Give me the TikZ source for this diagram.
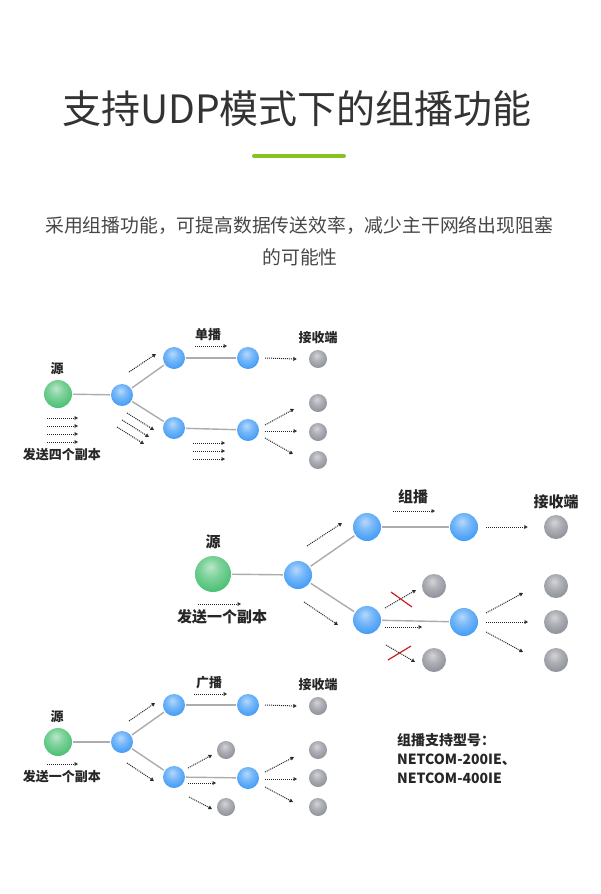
\documentclass[tikz,border=0pt]{standalone}
\usepackage{fontspec}
\setmainfont{Noto Sans CJK SC}
\usetikzlibrary{arrows.meta}
\definecolor{srcgreen}{RGB}{55,185,100}
\definecolor{hopblue}{RGB}{45,145,245}
\definecolor{rcvgray}{RGB}{130,133,142}
\definecolor{barlime}{RGB}{135,195,35}
\definecolor{crossred}{RGB}{200,30,30}
\makeatletter
\pgfdeclareradialshading[tikz@ball]{softball}{\pgfqpoint{-4bp}{10bp}}{%
	color(0bp)=(tikz@ball!35!white); color(14bp)=(tikz@ball!65!white);
	color(34bp)=(tikz@ball!95!white); color(52bp)=(tikz@ball);
	color(62bp)=(tikz@ball!85!black); color(80bp)=(tikz@ball!85!black)}
\makeatother
\begin{document}
\begin{tikzpicture}[x=1pt, y=-1pt, every node/.style={inner sep=0pt},
	src/.style={circle, ball color=srcgreen, shading=softball, minimum size=28pt},
	hop/.style={circle, ball color=hopblue, shading=softball, minimum size=22pt},
	rcv/.style={circle, ball color=rcvgray, shading=softball, minimum size=18pt},
	link/.style={draw=gray!65, line width=1.4pt, shorten <=1pt, shorten >=1pt},
	flow/.style={draw=black!85, densely dotted, line width=1pt, -{Triangle[open, length=3.5pt, width=3.8pt]}},
	cut/.style={draw=crossred, line width=1.2pt},
	lbl/.style={font=\bfseries\fontsize{13}{13}\selectfont, text=black!85},
	biglbl/.style={font=\bfseries\fontsize{15}{15}\selectfont, text=black!85}]
	\fill[white] (0,0) rectangle (600,894);
	\useasboundingbox (0,0) rectangle (600,894);

	% heading
	\node[font=\fontsize{39}{39}\selectfont, text=black!80] (title) at (297,109) {支持UDP模式下的组播功能};
	\coordinate (barL) at (254,156);
	\coordinate (barR) at (344,156);
	\draw[barlime, line width=4pt, line cap=round] (barL) -- (barR);
	\node[font=\fontsize{18.8}{18.8}\selectfont, text=black!72] (intro1) at (299,225) {采用组播功能，可提高数据传送效率，减少主干网络出现阻塞};
	\node[font=\fontsize{18.8}{18.8}\selectfont, text=black!72] (intro2) at (300,257) {的可能性};

	% unicast
	\node[src] (s1) at (58,394) {};
	\node[hop] (h1) at (122,395) {};
	\node[hop] (a1) at (174,358) {};
	\node[hop] (a2) at (248,358) {};
	\node[hop] (b1) at (174,428) {};
	\node[hop] (b2) at (248,430) {};
	\node[rcv] (r1) at (318,359) {};
	\node[rcv] (r2) at (318,403) {};
	\node[rcv] (r3) at (318,432) {};
	\node[rcv] (r4) at (318,460) {};
	\node[lbl] (srcU) at (57,369) {源};
	\node[lbl] (modeU) at (208,335) {单播};
	\node[lbl] (rcvU) at (318,338) {接收端};
	\node[lbl] (copyU) at (62,455) {发送四个副本};
	\draw[link] (s1) -- (h1);
	\draw[link] (h1) -- (a1);
	\draw[link] (h1) -- (b1);
	\draw[link] (a1) -- (a2);
	\draw[link] (b1) -- (b2);
	\draw[flow] ([shift={(-11,24)}]s1.center) -- ++(31,0);
	\draw[flow] ([shift={(-11,32)}]s1.center) -- ++(31,0);
	\draw[flow] ([shift={(-11,40)}]s1.center) -- ++(31,0);
	\draw[flow] ([shift={(-11,48)}]s1.center) -- ++(31,0);
	\draw[flow] ([shift={(7,-23)}]h1.center) -- ++(27,-18);
	\draw[flow] ([shift={(5,18)}]h1.center) -- ++(27,17);
	\draw[flow] ([shift={(0,25)}]h1.center) -- ++(27,17);
	\draw[flow] ([shift={(-5,32)}]h1.center) -- ++(27,17);
	\draw[flow] ([shift={(21,-12)}]a1.center) -- ++(32,0);
	\draw[flow] ([xshift=6pt]a2.east) -- ([xshift=-12pt]r1.west);
	\draw[flow] ([shift={(19,15)}]b1.center) -- ++(32,0);
	\draw[flow] ([shift={(19,23)}]b1.center) -- ++(32,0);
	\draw[flow] ([shift={(19,31)}]b1.center) -- ++(32,0);
	\draw[flow] ([shift={(17,-5)}]b2.center) -- ++(29,-16);
	\draw[flow] ([shift={(17,1)}]b2.center) -- ++(32,0);
	\draw[flow] ([shift={(17,8)}]b2.center) -- ++(28,16);

	% multicast
	\node[src, minimum size=36pt] (s2) at (213,574) {};
	\node[hop, minimum size=28pt] (h2) at (298,575) {};
	\node[hop, minimum size=28pt] (c1) at (367,527) {};
	\node[hop, minimum size=28pt] (c2) at (464,527) {};
	\node[hop, minimum size=28pt] (d1) at (367,620) {};
	\node[hop, minimum size=28pt] (d2) at (464,622) {};
	\node[rcv, minimum size=24pt] (x1) at (434,586) {};
	\node[rcv, minimum size=24pt] (x2) at (434,660) {};
	\node[rcv, minimum size=24pt] (q1) at (556,527) {};
	\node[rcv, minimum size=24pt] (q2) at (556,586) {};
	\node[rcv, minimum size=24pt] (q3) at (556,622) {};
	\node[rcv, minimum size=24pt] (q4) at (556,660) {};
	\node[biglbl] (srcM) at (213,542) {源};
	\node[biglbl] (modeM) at (413,497) {组播};
	\node[biglbl] (rcvM) at (556,502) {接收端};
	\node[biglbl] (copyM) at (222,617) {发送一个副本};
	\draw[link] (s2) -- (h2);
	\draw[link] (h2) -- (c1);
	\draw[link] (h2) -- (d1);
	\draw[link] (c1) -- (c2);
	\draw[link] (d1) -- (d2);
	\draw[flow] ([shift={(-15,30)}]s2.center) -- ++(43,0);
	\draw[flow] ([shift={(9,-29)}]h2.center) -- ++(35,-23);
	\draw[flow] ([shift={(6,27)}]h2.center) -- ++(34,23);
	\draw[flow] ([shift={(26,-16)}]c1.center) -- ++(42,0);
	\draw[flow] ([xshift=8pt]c2.east) -- ([xshift=-16pt]q1.west);
	\draw[flow] ([shift={(18,-12)}]d1.center) -- ++(31,-18);
	\draw[cut] ([shift={(24,-28)}]d1.center) -- ++(21,15);
	\draw[flow] ([shift={(18,7)}]d1.center) -- ++(37,0);
	\draw[flow] ([shift={(19,25)}]d1.center) -- ++(29,17);
	\draw[cut] ([shift={(21,40)}]d1.center) -- ++(23,-14);
	\draw[flow] ([shift={(22,-9)}]d2.center) -- ++(37,-20);
	\draw[flow] ([shift={(22,0)}]d2.center) -- ++(42,0);
	\draw[flow] ([shift={(22,10)}]d2.center) -- ++(37,20);

	% broadcast
	\node[src] (s3) at (58,742) {};
	\node[hop] (h3) at (122,742) {};
	\node[hop] (e1) at (174,705) {};
	\node[hop] (e2) at (248,705) {};
	\node[hop] (f1) at (174,777) {};
	\node[hop] (f2) at (248,778) {};
	\node[rcv] (g1) at (226,750) {};
	\node[rcv] (g2) at (226,807) {};
	\node[rcv] (p1) at (318,706) {};
	\node[rcv] (p2) at (318,750) {};
	\node[rcv] (p3) at (318,778) {};
	\node[rcv] (p4) at (318,807) {};
	\node[lbl] (srcB) at (57,717) {源};
	\node[lbl] (modeB) at (209,683) {广播};
	\node[lbl] (rcvB) at (318,685) {接收端};
	\node[lbl] (copyB) at (62,777) {发送一个副本};
	\draw[link] (s3) -- (h3);
	\draw[link] (h3) -- (e1);
	\draw[link] (h3) -- (f1);
	\draw[link] (e1) -- (e2);
	\draw[link] (f1) -- (f2);
	\draw[flow] ([shift={(-11,22)}]s3.center) -- ++(31,0);
	\draw[flow] ([shift={(7,-21)}]h3.center) -- ++(26,-18);
	\draw[flow] ([shift={(5,21)}]h3.center) -- ++(27,18);
	\draw[flow] ([shift={(20,-11)}]e1.center) -- ++(33,0);
	\draw[flow] ([xshift=6pt]e2.east) -- ([xshift=-12pt]p1.west);
	\draw[flow] ([shift={(14,-9)}]f1.center) -- ++(24,-13);
	\draw[flow] ([shift={(14,6)}]f1.center) -- ++(28,0);
	\draw[flow] ([shift={(15,20)}]f1.center) -- ++(23,12);
	\draw[flow] ([shift={(17,-6)}]f2.center) -- ++(29,-15);
	\draw[flow] ([shift={(17,1)}]f2.center) -- ++(32,0);
	\draw[flow] ([shift={(17,9)}]f2.center) -- ++(28,15);

	% supported models
	\node[anchor=west, align=left, font=\bfseries\fontsize{14}{19}\selectfont, text=black!85] (models) at (397,759) {组播支持型号：\\NETCOM-200IE、\\NETCOM-400IE};
\end{tikzpicture}
\end{document}
